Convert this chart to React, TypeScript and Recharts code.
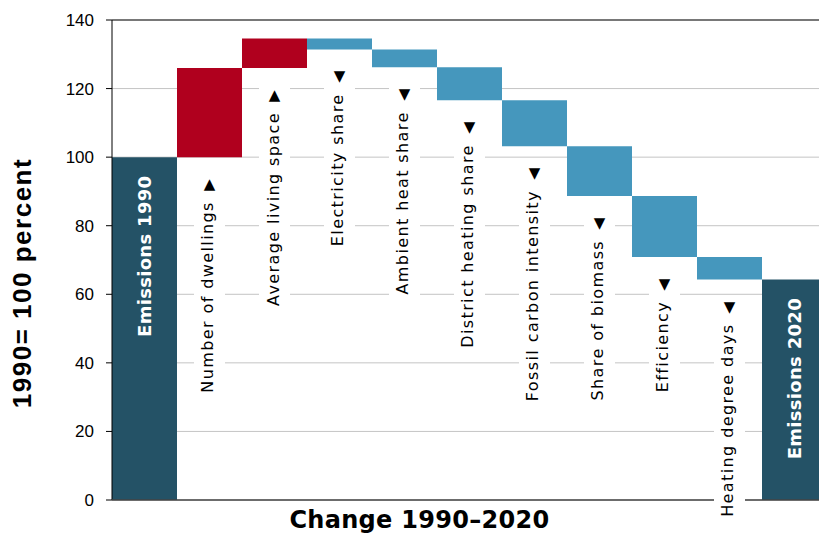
import { BarChart, Bar, XAxis, YAxis, CartesianGrid, Cell, LabelList, ReferenceLine } from 'recharts';

// Residential heating emissions, decomposition of the change 1990–2020 (1990 = 100)
const categories = [
  'Emissions 1990',
  'Number of dwellings',
  'Average living space',
  'Electricity share',
  'Ambient heat share',
  'District heating share',
  'Fossil carbon intensity',
  'Share of biomass',
  'Efficiency',
  'Heating degree days',
  'Emissions 2020',
];
const startValue = 100;
const effects = [26.0, 8.6, -3.2, -5.2, -9.6, -13.4, -14.5, -17.8, -6.6];
const endValue = 64.3;
const yTicks = [0, 20, 40, 60, 80, 100, 120, 140];

const TOTAL_COLOR = '#245266';
const UP_COLOR = '#B0001E';
const DOWN_COLOR = '#4597BD';

type Kind = 'total' | 'up' | 'down';
interface Row {
  name: string;
  base: number;
  delta: number;
  kind: Kind;
}

// floating bars: invisible base + visible step
const rows: Row[] = [];
rows.push({ name: categories[0], base: 0, delta: startValue, kind: 'total' });
let level = startValue;
effects.forEach((e, i) => {
  const next = level + e;
  rows.push({ name: categories[i + 1], base: Math.min(level, next), delta: Math.abs(e), kind: e >= 0 ? 'up' : 'down' });
  level = next;
});
rows.push({ name: categories[categories.length - 1], base: 0, delta: endValue, kind: 'total' });

const LABEL_FONT = '16px "DejaVu Sans"';
const LABEL_SPACING = 1.4;

let ctx: CanvasRenderingContext2D | null = null;
function textWidth(s: string) {
  if (!ctx) ctx = document.createElement('canvas').getContext('2d');
  if (!ctx) return s.length * 9;
  ctx.font = LABEL_FONT;
  return ctx.measureText(s).width + s.length * LABEL_SPACING;
}

function StepLabel(props: any) {
  const vb = props.viewBox ?? props;
  const { x, y, width, height } = vb;
  const row = rows[props.index];
  if (!row) return null;
  const cx = x + width / 2;

  if (row.kind === 'total') {
    const top = y + 18.5;
    const bx = cx + 7;
    return (
      <text
        x={bx}
        y={top}
        transform={`rotate(-90 ${bx} ${top})`}
        textAnchor="end"
        fill="#fff"
        fontFamily="DejaVu Sans"
        fontWeight="bold"
        fontSize={18}
        letterSpacing={0.3}
      >
        {row.name}
      </text>
    );
  }

  const top = y + height + 20;
  const textTop = top + 24;
  const len = textWidth(row.name);
  const bx = cx + 4;
  return (
    <g>
      <rect x={cx - 15.5} y={top - 4} width={31} height={24 + len + 6} fill="#fff" />
      <text x={cx} y={top + 12} textAnchor="middle" fontFamily="DejaVu Sans" fontSize={15} fill="#000">
        {row.kind === 'up' ? '▲' : '▼'}
      </text>
      <text
        x={bx}
        y={textTop}
        transform={`rotate(-90 ${bx} ${textTop})`}
        textAnchor="end"
        fontFamily="DejaVu Sans"
        fontSize={16}
        letterSpacing={LABEL_SPACING}
        fill="#000"
      >
        {row.name}
      </text>
    </g>
  );
}

function YTitle(props: any) {
  const vb = props.viewBox;
  const cy = vb.y + vb.height / 2 + 23;
  const bx = 31;
  return (
    <text
      x={bx}
      y={cy}
      transform={`rotate(-90 ${bx} ${cy})`}
      textAnchor="middle"
      fontFamily="Liberation Sans"
      fontWeight="bold"
      fontSize={26}
      letterSpacing={1.5}
      fill="#000"
    >
      1990= 100 percent
    </text>
  );
}

function XTitle(props: any) {
  const vb = props.viewBox;
  const cx = vb.x + vb.width / 2 - 50;
  return (
    <text
      x={cx}
      y={vb.y + 28}
      textAnchor="middle"
      fontFamily="DejaVu Sans"
      fontWeight="bold"
      fontSize={24}
      letterSpacing={0.3}
      fill="#000"
    >
      Change 1990–2020
    </text>
  );
}

export default function App() {
  return (
    <div style={{ position: 'fixed', left: 0, top: 0, width: 819, height: 533, overflow: 'hidden', background: '#fff' }}>
      <BarChart
        width={840}
        height={533}
        data={rows}
        margin={{ top: 20, right: 13, left: 0, bottom: 0 }}
        barCategoryGap={0}
      >
        <CartesianGrid vertical={false} stroke="#C4C4C4" />
        <YAxis
          type="number"
          domain={[0, 140]}
          ticks={yTicks}
          width={112}
          tickSize={6}
          tickMargin={12}
          axisLine={{ stroke: '#000' }}
          tickLine={{ stroke: '#000' }}
          tick={{ fill: '#000', fontSize: 17, fontFamily: 'Liberation Sans' }}
          label={{ content: YTitle }}
        />
        <XAxis
          dataKey="name"
          height={33}
          tick={false}
          tickLine={false}
          axisLine={{ stroke: '#444', strokeWidth: 1.5 }}
          label={{ content: XTitle }}
        />
        <ReferenceLine y={140} stroke="#555" strokeWidth={1.5} />
        <Bar dataKey="base" stackId="w" fill="transparent" isAnimationActive={false} />
        <Bar dataKey="delta" stackId="w" isAnimationActive={false}>
          {rows.map((r, i) => (
            <Cell key={i} fill={r.kind === 'total' ? TOTAL_COLOR : r.kind === 'up' ? UP_COLOR : DOWN_COLOR} />
          ))}
          <LabelList dataKey="delta" content={StepLabel} />
        </Bar>
      </BarChart>
    </div>
  );
}
